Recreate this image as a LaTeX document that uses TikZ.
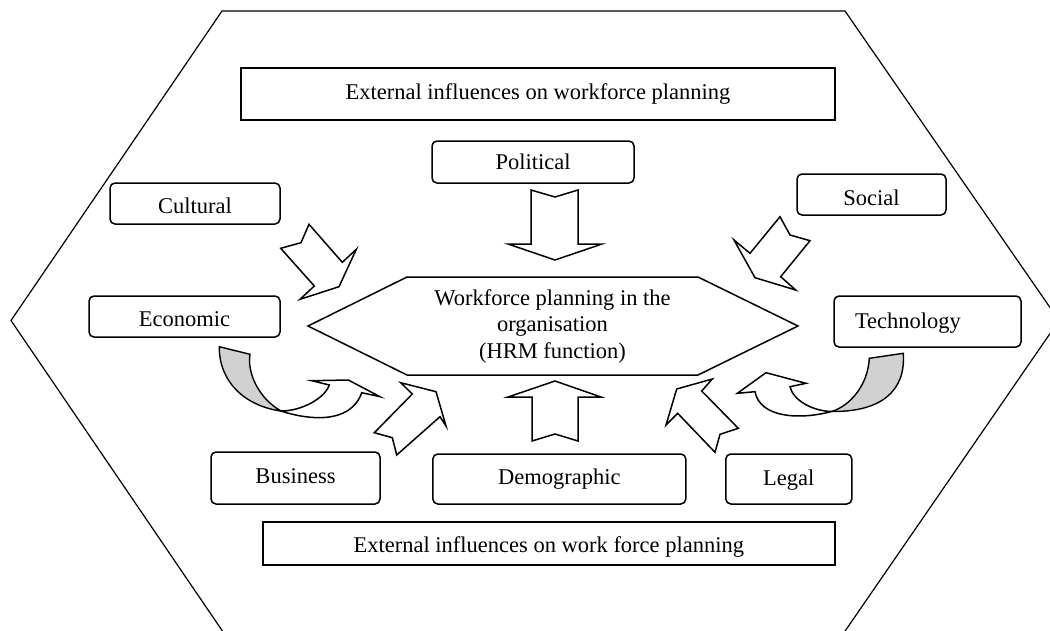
\documentclass[tikz,border=0pt]{standalone}
\usepackage{fontspec}
\setmainfont{Liberation Serif}
\begin{document}
\begin{tikzpicture}[x=1pt,y=-1pt,
  lbl/.style={font=\fontsize{22.5}{26.5}\selectfont, inner sep=0pt, text depth=0pt, text height=14.9pt},
  lift/.style={text height=#1},
  plainbox/.style={draw, line width=1.5pt, lbl},
  softbox/.style={plainbox, rounded corners=5pt},
  blockarrow/.style={draw, fill=white, line width=1.5pt, line join=miter},
  ribbonback/.style={draw, fill=black!18, line width=1.4pt},
  frame/.style={draw, line width=1.2pt},
  core/.style={draw, line width=1.5pt}]
\useasboundingbox (0,0) rectangle (1050,630);

% surrounding hexagon (partly cut by the page edges)
\draw[frame] (222,11) -- (845,11) -- (1059,320.5) -- (844.4,632) -- (223.1,632) -- (11,320.5) -- cycle;

% central hexagon
\draw[core] (308,326) -- (407,277) -- (698,277) -- (798,326) -- (698,375) -- (407,375) -- cycle;
\node[lbl, align=center, text height=, text depth=] (hrm) at (552.5,326)
  {Workforce planning in the\\organisation\\(HRM function)};

% titles
\node[plainbox, lift=11.9pt, minimum width=594pt, minimum height=52pt] (extTop) at (538,94)
  {External influences on workforce planning};
\node[plainbox, lift=17.5pt, minimum width=572pt, minimum height=43pt] (extBottom) at (548.8,543.5)
  {External influences on work force planning};

% influence boxes
\node[softbox, minimum width=202pt, minimum height=42pt] (political) at (533,162) {Political};
\node[softbox, lift=20.3pt, minimum width=170pt, minimum height=41pt] (cultural) at (195,203.5) {Cultural};
\node[softbox, lift=22.9pt, minimum width=149pt, minimum height=41pt] (social) at (871.5,194.5) {Social};
\node[softbox, lift=19.9pt, minimum width=191pt, minimum height=41pt] (economic) at (184.5,316.5) {Economic};
\node[softbox, minimum width=187pt, minimum height=51pt, text width=145pt, align=left, inner xsep=21pt] (technology) at (927.5,321.5) {Technology};
\node[softbox, lift=10.9pt, minimum width=169pt, minimum height=52pt] (business) at (295.5,478) {Business};
\node[softbox, lift=10.9pt, minimum width=253pt, minimum height=50pt] (demographic) at (559.3,479) {Demographic};
\node[softbox, lift=13.9pt, minimum width=126pt, minimum height=50pt] (legal) at (788.8,479) {Legal};

% notched block arrows pointing at the central hexagon
\draw[blockarrow] (531,190) -- (555,197) -- (578,190) -- (578,244) -- (602,244) -- (555,260) -- (508,244) -- (531,244) -- cycle;
\draw[blockarrow] (532,441) -- (555,434) -- (578,441) -- (578,397) -- (601,397) -- (555,381) -- (508,397) -- (532,397) -- cycle;
\draw[blockarrow] (309,224.3) -- (301,242.7) -- (280.7,248.3) -- (314.3,286) -- (300,299.3) -- (339,286.7) -- (356.3,249.3) -- (342.3,262.3) -- cycle;
\draw[blockarrow] (780,216.7) -- (790,235) -- (810,240.7) -- (780.7,276.7) -- (795.7,290) -- (755,277.7) -- (734,240) -- (750,253.3) -- cycle;
\draw[blockarrow] (374.3,432.7) -- (392.3,437.7) -- (396.7,455) -- (440,416.7) -- (446,426) -- (436,391.7) -- (400.7,382.7) -- (412.3,394) -- cycle;
\draw[blockarrow] (715,452.3) -- (720,434.3) -- (738.3,428.3) -- (701.7,391) -- (712.3,379) -- (676.7,389) -- (666,425) -- (677.7,413.3) -- cycle;

% curved ribbon arrow under Economic
\draw[ribbonback] (219.3,346.7) .. controls (219,382) and (245,406) .. (281,411)
  .. controls (258,398) and (247,372) .. (250,354.3) -- cycle;
\draw[blockarrow] (281,411) .. controls (305,419) and (350,426) .. (361.7,392.7)
  -- (380,396.7) -- (348.3,380) -- (311.7,380.7) -- (329.3,385)
  .. controls (325,398) and (302,411) .. (281,411) -- cycle;

% curved ribbon arrow under Technology
\draw[ribbonback] (903.3,353.3) .. controls (906,392) and (880,412) .. (831.5,411.5)
  .. controls (850,406) and (868,385) .. (869.3,358.3) -- cycle;
\draw[blockarrow] (831.5,411.5) .. controls (800,420) and (760,418) .. (755,391.7)
  -- (737.3,393.3) -- (766,372.7) -- (806,383.3) -- (790,386.7)
  .. controls (793,400) and (812,411) .. (831.5,411.5) -- cycle;
\end{tikzpicture}
\end{document}
